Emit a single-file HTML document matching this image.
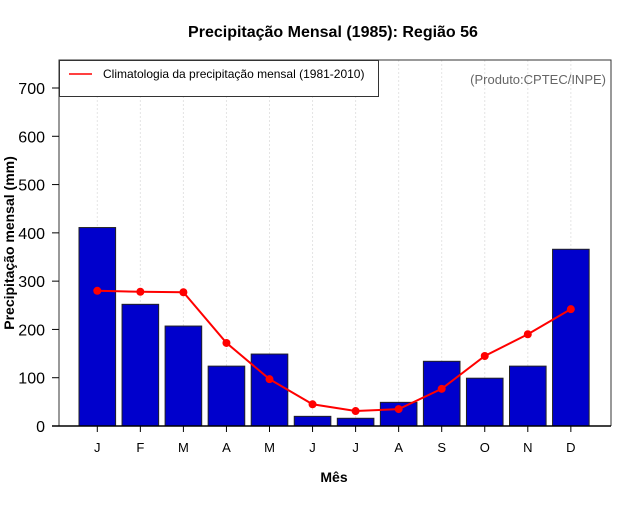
<!DOCTYPE html>
<html><head><meta charset="utf-8"><style>
body{margin:0;background:#fff;}
svg text{font-family:"Liberation Sans",sans-serif;}
</style></head><body>
<svg id="c" width="640" height="500" xmlns="http://www.w3.org/2000/svg"></svg>
<script>
const months=["J","F","M","A","M","J","J","A","S","O","N","D"];
const precip=[411,252,207,124,149,20,16,49,134,99,124,366];
const clim=[280,278,277,172,97,45,31,35,77,145,190,242];
const yTicks=[0,100,200,300,400,500,600,700];
const NS="http://www.w3.org/2000/svg";
const svg=document.getElementById('c');
const L=59,R=611,T=60,B=426;
const y=v=>B-v*(426-88)/700;
const x=i=>97.3+i*43.05;
function mk(tag,attrs,parent){const e=document.createElementNS(NS,tag);for(const k in attrs)e.setAttribute(k,attrs[k]);(parent||svg).appendChild(e);return e;}
months.forEach((m,i)=>{const g=mk('line',{x1:x(i),x2:x(i),y1:T,y2:B,stroke:'#e4e4e4','stroke-dasharray':'2,2'});

});
precip.forEach((v,i)=>{const r=mk('rect',{x:x(i)-18.3,y:y(v),width:36.6,height:B-y(v),fill:'#0000cc',stroke:'#222','stroke-width':1});

});
const pl=mk('polyline',{points:clim.map((v,i)=>x(i)+','+y(v)).join(' '),fill:'none',stroke:'#ff0000','stroke-width':2});


clim.forEach((v,i)=>{const c=mk('circle',{cx:x(i),cy:y(v),r:4,fill:'#ff0000'});

});
const fr=mk('path',{d:`M${L},${B} L${L},${T} L${R},${T} L${R},${B}`,fill:'none',stroke:'#333','stroke-width':1});


const xa=mk('line',{x1:L-7,x2:R,y1:B,y2:B,stroke:'#000','stroke-width':1.5});


yTicks.forEach(v=>{mk('line',{x1:L-7,x2:L,y1:y(v),y2:y(v),stroke:'#000'});
const t=mk('text',{x:L-14,y:y(v)+6,'text-anchor':'end','font-size':16});t.textContent=v;

});
months.forEach((m,i)=>{mk('line',{x1:x(i),x2:x(i),y1:B,y2:B+6,stroke:'#000'});
const t=mk('text',{x:x(i),y:452,'text-anchor':'middle','font-size':13});t.textContent=m;

});
</script>
<svg width="640" height="500" style="position:absolute;left:0;top:0" xmlns="http://www.w3.org/2000/svg">
<text x="333" y="37" text-anchor="middle" font-size="16" font-weight="bold">Precipitação Mensal (1985): Região 56</text>
<text x="334" y="482" text-anchor="middle" font-size="14" font-weight="bold">Mês</text>
<text transform="translate(14,243) rotate(-90)" text-anchor="middle" font-size="14" font-weight="bold">Precipitação mensal (mm)</text>
<g>
<rect x="59.5" y="60.5" width="319" height="36" fill="#fff" stroke="#333"/>
<line x1="69" x2="92" y1="74" y2="74" stroke="#ff0000" stroke-width="1.5"/>
<text x="103" y="78" font-size="12">Climatologia da precipitação mensal (1981-2010)</text>
</g>
<text x="606" y="84" text-anchor="end" font-size="13" fill="#666">(Produto:CPTEC/INPE)</text>
</svg>
</body></html>
